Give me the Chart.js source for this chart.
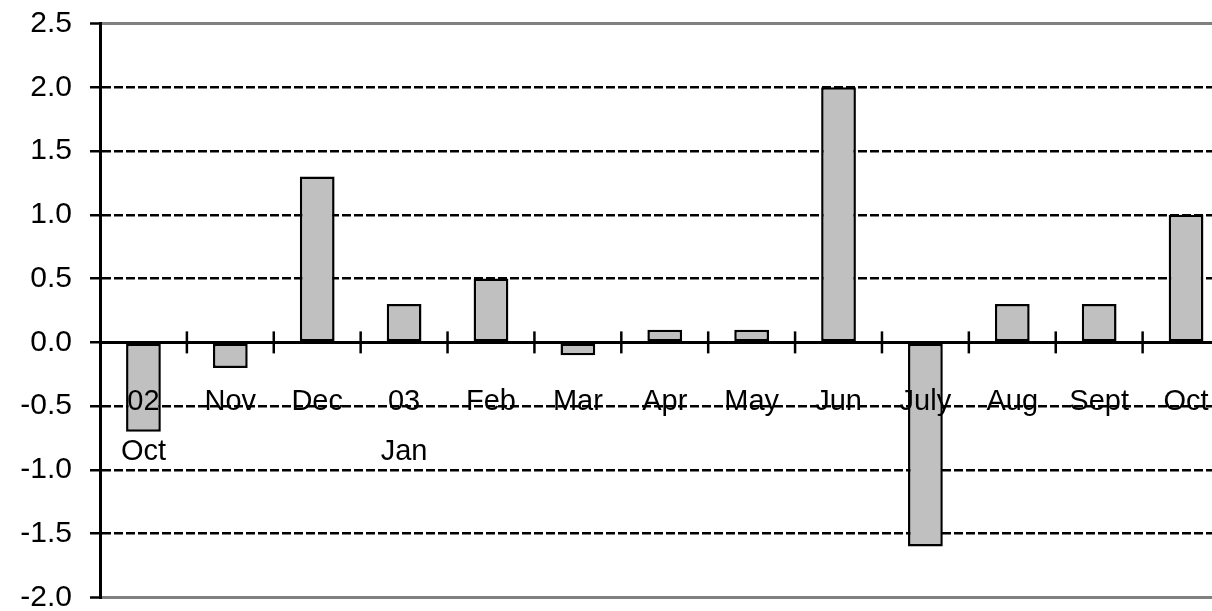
<!DOCTYPE html>
<html>
<head>
<meta charset="utf-8">
<script src="https://cdn.jsdelivr.net/npm/chart.js@4.4.1/dist/chart.umd.min.js"></script>
<style>
  html, body { margin: 0; padding: 0; background: #fff; overflow: hidden; }
  #wrap { width: 1240px; height: 611px; }
</style>
</head>
<body>
<div id="wrap"><canvas id="c" width="1240" height="611" style="width:1240px;height:611px"></canvas></div>
<script>
const categories = [["02", "Oct"], "Nov", "Dec", ["03", "Jan"], "Feb", "Mar", "Apr", "May", "Jun", "July", "Aug", "Sept", "Oct"];
const values = [-0.7, -0.2, 1.3, 0.3, 0.5, -0.1, 0.1, 0.1, 2.0, -1.6, 0.3, 0.3, 1.0];
const yMin = -2.0;
const yMax = 2.5;
const yStep = 0.5;

const FONT = "'Liberation Sans', Arial, sans-serif";

const crossTicks = {
  id: 'crossTicks',
  afterDatasetsDraw(chart) {
    const x = chart.scales.x, y = chart.scales.y;
    const ctx = chart.ctx;
    const y0 = y.getPixelForValue(0);
    ctx.save();
    ctx.strokeStyle = '#000';
    ctx.lineWidth = 2.5;
    for (let i = 1; i < categories.length; i++) {
      const px = (x.getPixelForTick(i - 1) + x.getPixelForTick(i)) / 2;
      ctx.beginPath();
      ctx.moveTo(px, y0 - 11);
      ctx.lineTo(px, y0 + 11);
      ctx.stroke();
    }
    ctx.restore();
  }
};

const isEdge = ctx => ctx.tick && (ctx.tick.value === yMax || ctx.tick.value === yMin);

new Chart(document.getElementById('c'), {
  type: 'bar',
  data: {
    labels: categories,
    datasets: [{
      data: values,
      backgroundColor: '#c0c0c0',
      borderColor: '#000',
      borderWidth: 2.5,
      borderSkipped: false,
      barPercentage: 0.4,
      categoryPercentage: 1.0
    }]
  },
  options: {
    responsive: false,
    maintainAspectRatio: false,
    devicePixelRatio: 1,
    animation: false,
    layout: { padding: { top: 23.5, bottom: 13.5, left: 0, right: 10.5 } },
    plugins: { legend: { display: false }, tooltip: { enabled: false } },
    scales: {
      x: {
        position: { y: 0 },
        offset: true,
        afterFit(s) { s.height = 0; s.paddingLeft = 0; s.paddingRight = 0; },
        grid: { display: true, drawOnChartArea: false, drawTicks: false, offset: true },
        border: { display: true, color: '#000', width: 3, z: 1 },
        ticks: {
          z: 2,
          color: '#000',
          padding: 35,
          maxRotation: 0,
          autoSkip: false,
          font: { family: FONT, size: 29, lineHeight: 1.72 }
        }
      },
      y: {
        min: yMin,
        max: yMax,
        afterFit(s) { s.width = 100; s.paddingTop = 0; s.paddingBottom = 0; },
        grid: {
          color: ctx => isEdge(ctx) ? '#808080' : '#000',
          lineWidth: ctx => isEdge(ctx) ? 3 : 2.5,
          tickColor: '#000',
          tickLength: 10,
          tickWidth: 2.5,
          tickBorderDash: []
        },
        border: {
          display: true,
          color: '#000',
          width: 3,
          dash: ctx => isEdge(ctx) ? [] : [9, 3]
        },
        ticks: {
          stepSize: yStep,
          color: '#000',
          padding: 18,
          font: { family: FONT, size: 30, lineHeight: 0.8 },
          callback: v => Number(v).toFixed(1)
        }
      }
    }
  },
  plugins: [crossTicks]
});
</script>
</body>
</html>
